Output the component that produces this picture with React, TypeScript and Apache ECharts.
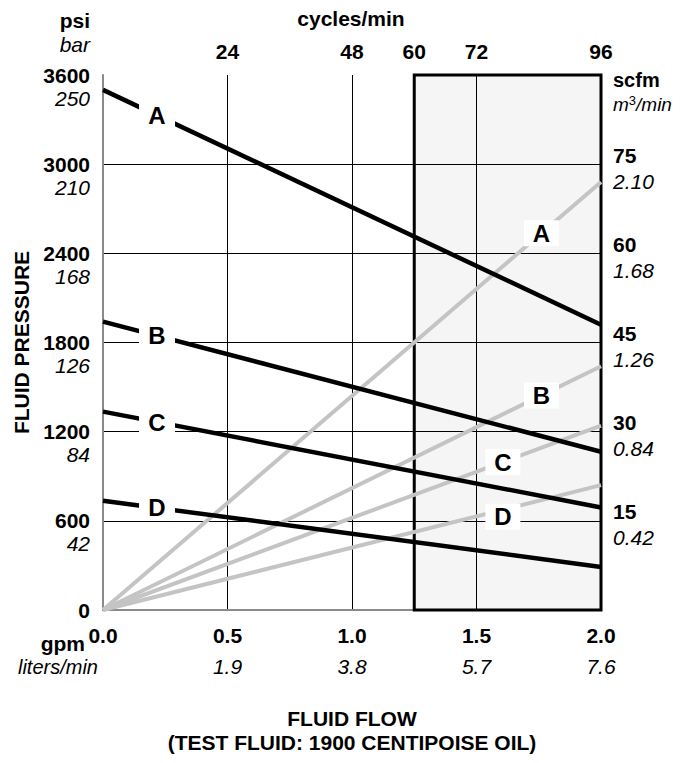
import React, { useEffect, useRef } from "react";
import * as echarts from "echarts";

const FONT = '"Liberation Sans", Arial, Helvetica, sans-serif';

// Axis ticks and secondary labels
const gpmTicks = [0, 0.5, 1, 1.5, 2];
const literLabels = ["", "1.9", "3.8", "5.7", "7.6"];
const psiTicks = [0, 600, 1200, 1800, 2400, 3000, 3600];
const barLabels = ["", "42", "84", "126", "168", "210", "250"];
const scfmTicks = [15, 30, 45, 60, 75];
const m3Labels = ["0.42", "0.84", "1.26", "1.68", "2.10"];
const cycleTicks = [24, 48, 60, 72, 96];

// Series
const curveNames = ["A", "B", "C", "D"];
const flowRange = [0, 2];
const pressureStart = [3500, 1940, 1335, 735]; // psi at 0 gpm
const pressureEnd = [1920, 1065, 690, 290]; // psi at 2 gpm
const airStart = [0, 0, 0, 0]; // scfm at 0 gpm
const airEnd = [72, 41, 31, 21]; // scfm at 2 gpm
const shadedFrom = 1.25; // gpm (60 cycles/min)

// where the curve letters sit (gpm along each line)
const pressureLabelAt = [0.217, 0.217, 0.217, 0.217];
const airLabelAt = [1.761, 1.761, 1.606, 1.606];

const FS = 21;

const rich = (lh1: number, lh2: number) => ({
  b: { fontFamily: FONT, fontWeight: "bold", fontSize: FS, lineHeight: lh1, color: "#000" },
  i: { fontFamily: FONT, fontStyle: "italic", fontWeight: "normal", fontSize: FS, lineHeight: lh2, color: "#000" },
});

export default function App() {
  const ref = useRef<HTMLDivElement>(null);
  useEffect(() => {
    if (!ref.current) return;
    const chart = echarts.init(ref.current, null, { renderer: "svg" });
    const lerp = (a: number, b: number, x: number) => a + ((b - a) * (x - flowRange[0])) / (flowRange[1] - flowRange[0]);

    const labelStyle = {
      show: true,
      color: "#000",
      fontFamily: FONT,
      fontWeight: "bold",
      fontSize: 24,
    };

    const airSeries = curveNames.map((n, k) => ({
      type: "line",
      name: "air " + n,
      xAxisIndex: 0,
      yAxisIndex: 1,
      z: 3,
      symbol: "none",
      silent: true,
      lineStyle: { color: "#c4c4c4", width: 4 },
      data: [
        [flowRange[0], airStart[k]],
        [flowRange[1], airEnd[k]],
      ],
      markPoint: {
        symbol: "rect",
        symbolSize: [35, 26],
        symbolOffset: [0, k === 3 ? 7 : 0],
        itemStyle: { color: "#fff" },
        label: { ...labelStyle, formatter: n },
        data: [{ coord: [airLabelAt[k], lerp(airStart[k], airEnd[k], airLabelAt[k])] }],
      },
    }));

    const pressureSeries = curveNames.map((n, k) => ({
      type: "line",
      name: "pressure " + n,
      xAxisIndex: 0,
      yAxisIndex: 0,
      z: 4,
      symbol: "none",
      silent: true,
      lineStyle: { color: "#000", width: 4.5 },
      data: [
        [flowRange[0], pressureStart[k]],
        [flowRange[1], pressureEnd[k]],
      ],
      markPoint: {
        symbol: "rect",
        symbolSize: [36, 26],
        itemStyle: { color: "#fff" },
        label: { ...labelStyle, formatter: n },
        data: [{ coord: [pressureLabelAt[k], lerp(pressureStart[k], pressureEnd[k], pressureLabelAt[k])] }],
      },
    }));

    const axisGray = { show: true, lineStyle: { color: "#8a8a8a", width: 2 } };

    chart.setOption({
      animation: false,
      backgroundColor: "#fff",
      grid: { left: 103, right: 79, top: 75, bottom: 153, outerBoundsMode: "none", containLabel: false },
      xAxis: [
        {
          type: "value",
          position: "bottom",
          min: 0,
          max: 2,
          interval: 0.5,
          axisLine: axisGray,
          axisTick: { show: false },
          splitLine: { show: true, showMinLine: false, showMaxLine: false, lineStyle: { color: "#000", width: 1 } },
          axisLabel: {
            margin: 10,
            verticalAlign: "top",
            formatter: (v: number) => {
              const i = gpmTicks.indexOf(v);
              const l = i >= 0 ? literLabels[i] : "";
              return l ? `{b|${v.toFixed(1)}}\n{i|${l}}` : `{b|${v.toFixed(1)}}`;
            },
            rich: rich(31, 31),
          },
          name: "FLUID FLOW\n(TEST FLUID: 1900 CENTIPOISE OIL)",
          nameLocation: "middle",
          nameGap: 96,
          nameTextStyle: {
            fontFamily: FONT,
            fontWeight: "bold",
            fontSize: FS,
            lineHeight: 24,
            color: "#000",
            verticalAlign: "top",
          },
        },
        {
          type: "value",
          position: "top",
          min: 0,
          max: 96,
          interval: 12,
          axisLine: axisGray,
          axisTick: { show: false },
          splitLine: { show: false },
          axisLabel: {
            margin: 12,
            formatter: (v: number) => (cycleTicks.indexOf(v) >= 0 ? `{b|${v}}` : ""),
            rich: rich(24, 24),
          },
        },
      ],
      yAxis: [
        {
          type: "value",
          position: "left",
          min: 0,
          max: 3600,
          interval: 600,
          axisLine: axisGray,
          axisTick: { show: false },
          splitLine: { show: true, showMinLine: false, showMaxLine: false, lineStyle: { color: "#000", width: 1 } },
          axisLabel: {
            margin: 13,
            padding: [23, 0, 0, 0],
            align: "right",
            formatter: (v: number) => {
              const i = psiTicks.indexOf(v);
              const l = i >= 0 && barLabels[i] ? barLabels[i] : " ";
              return `{b|${v}}\n{i|${l}}`;
            },
            rich: rich(23, 23),
          },
          name: "FLUID PRESSURE",
          nameLocation: "middle",
          nameGap: 65,
          nameTextStyle: { fontFamily: FONT, fontWeight: "bold", fontSize: 21, color: "#000" },
        },
        {
          type: "value",
          position: "right",
          min: 0,
          max: 90,
          interval: 15,
          axisLine: { show: false },
          axisTick: { show: false },
          splitLine: { show: false },
          axisLabel: {
            margin: 12,
            padding: [8, 0, 0, 0],
            align: "left",
            formatter: (v: number) => {
              const i = scfmTicks.indexOf(v);
              return i >= 0 ? `{b|${v}}\n{i|${m3Labels[i]}}` : "";
            },
            rich: rich(26, 26),
          },
        },
      ],
      graphic: [
        { type: "text", x: 90, y: 20, style: { text: "psi", fill: "#000", font: `bold ${FS}px ${FONT}`, textAlign: "right", textVerticalAlign: "middle" } },
        { type: "text", x: 90, y: 44, style: { text: "bar", fill: "#000", font: `italic ${FS}px ${FONT}`, textAlign: "right", textVerticalAlign: "middle" } },
        { type: "text", x: 351, y: 18, style: { text: "cycles/min", fill: "#000", font: `bold ${FS}px ${FONT}`, textAlign: "center", textVerticalAlign: "middle" } },
        { type: "text", x: 613, y: 80, style: { text: "scfm", fill: "#000", font: `bold 20px ${FONT}`, textAlign: "left", textVerticalAlign: "middle" } },
        {
          type: "text",
          x: 613,
          y: 104,
          style: {
            text: "{i|m}{s|3}{i|/min}",
            textAlign: "left",
            textVerticalAlign: "middle",
            rich: {
              i: { fontFamily: FONT, fontStyle: "italic", fontSize: 19, fill: "#000", color: "#000", lineHeight: 20 },
              s: { fontFamily: FONT, fontSize: 13, fill: "#000", color: "#000", lineHeight: 20, verticalAlign: "top" },
            },
          },
        },
        { type: "text", x: 85, y: 643, style: { text: "gpm", fill: "#000", font: `bold ${FS}px ${FONT}`, textAlign: "right", textVerticalAlign: "middle" } },
        { type: "text", x: 98, y: 667, style: { text: "liters/min", fill: "#000", font: `italic 20px ${FONT}`, textAlign: "right", textVerticalAlign: "middle" } },
      ],
      series: [
        {
          type: "line",
          name: "shaded",
          xAxisIndex: 0,
          yAxisIndex: 0,
          z: 1,
          silent: true,
          data: [],
          markArea: {
            silent: true,
            itemStyle: { color: "rgba(0,0,0,0.04)", borderColor: "#000", borderWidth: 3 },
            data: [[{ xAxis: shadedFrom }, { xAxis: flowRange[1] }]],
          },
        },
        ...airSeries,
        ...pressureSeries,
      ],
    });
    return () => chart.dispose();
  }, []);
  return (
    <div
      ref={ref}
      style={{ position: "fixed", left: 0, top: 0, width: 680, height: 763, background: "#fff" }}
    />
  );
}
